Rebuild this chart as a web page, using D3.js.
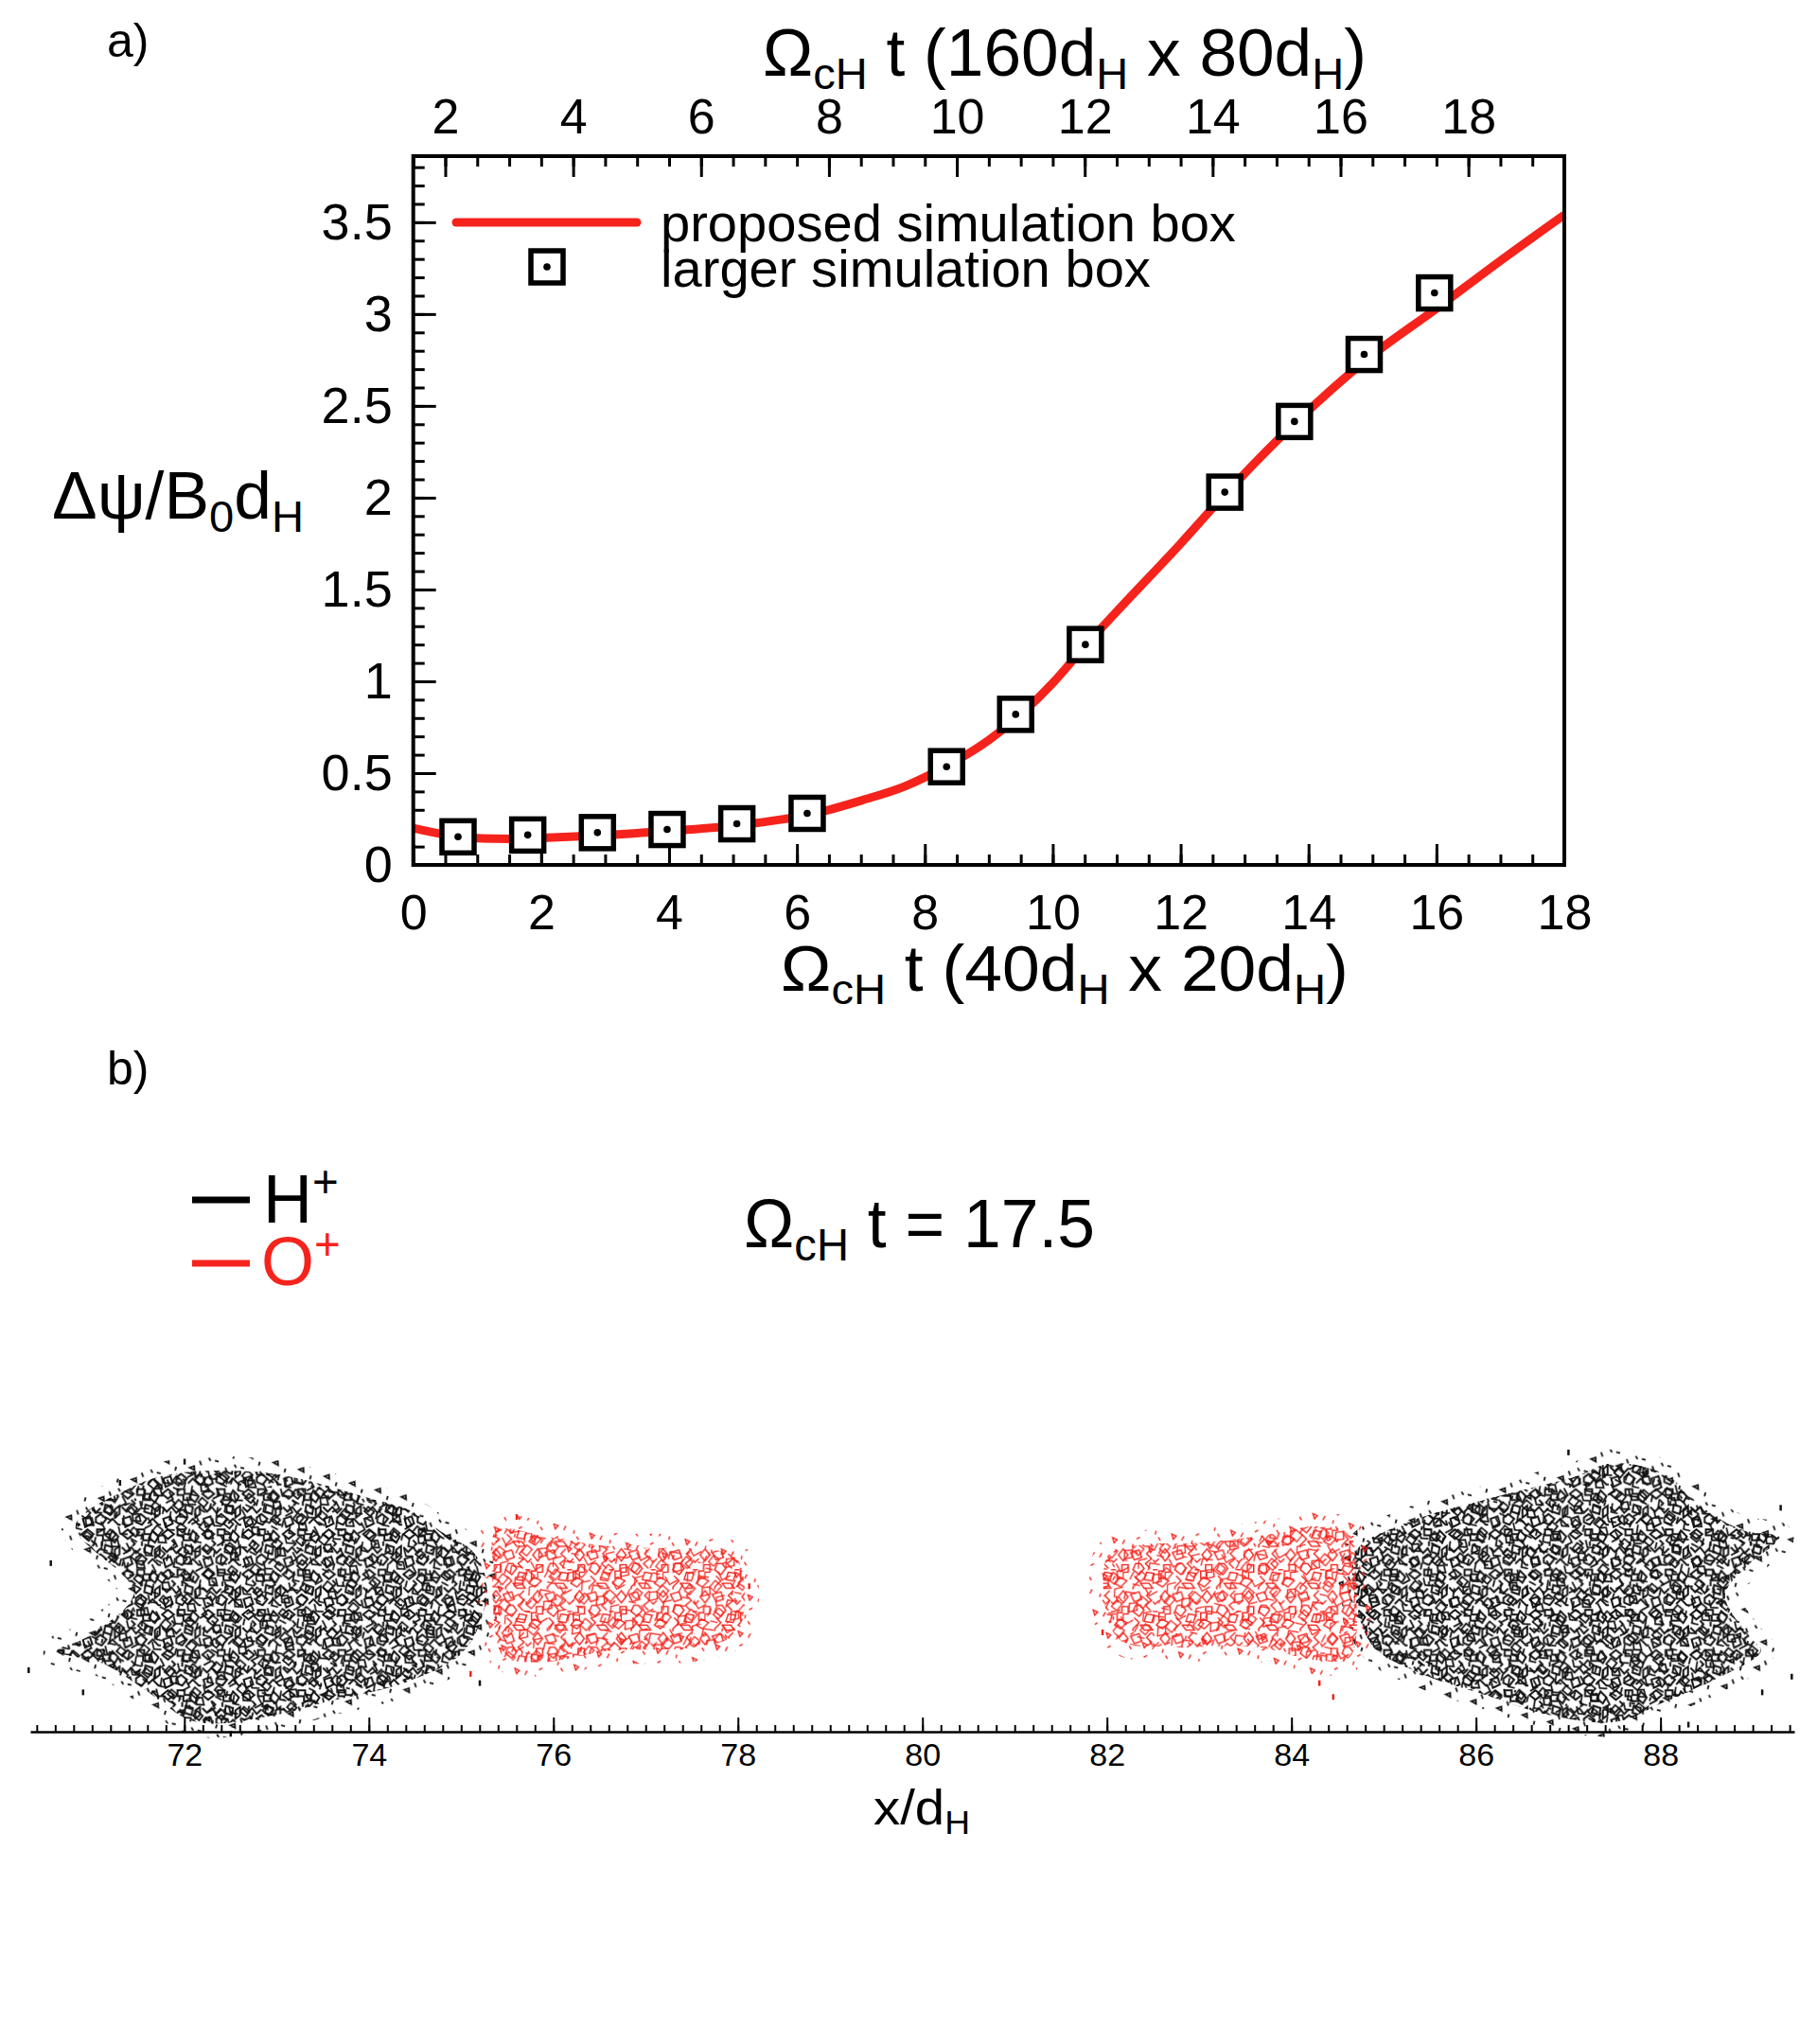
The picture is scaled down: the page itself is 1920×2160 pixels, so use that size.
<!DOCTYPE html>
<html>
<head>
<meta charset="utf-8">
<script src="https://cdn.jsdelivr.net/npm/d3@7"></script>
<style>
  body { margin: 0; background: #fff; }
  svg { display: block; }
</style>
</head>
<body>
<svg id="fig" width="1920" height="2160"></svg>
<script>
// ---- panel a data ----
const lineT = [0, 0.5, 1, 1.5, 2, 3, 4, 5, 6, 6.5, 7, 7.7, 8.4, 9, 9.5, 10, 10.5, 11, 12, 12.7, 13.8, 14.9, 16, 17, 18]
const lineV = [0.20, 0.165, 0.145, 0.142, 0.147, 0.162, 0.185, 0.213, 0.262, 0.30, 0.35, 0.43, 0.55, 0.68, 0.82, 0.99, 1.19, 1.38, 1.75, 2.02, 2.41, 2.75, 3.03, 3.29, 3.54]
const boxT = [0.70, 1.79, 2.88, 3.97, 5.06, 6.16, 8.34, 9.42, 10.51, 12.69, 13.78, 14.87, 15.97]
const boxV = [0.153, 0.163, 0.176, 0.193, 0.224, 0.281, 0.535, 0.82, 1.20, 2.03, 2.415, 2.78, 3.115]
const bottomTicks = [0, 2, 4, 6, 8, 10, 12, 14, 16, 18]
const topTicks = [2, 4, 6, 8, 10, 12, 14, 16, 18]
const yTicks = [0, 0.5, 1, 1.5, 2, 2.5, 3, 3.5]
const legendLabels = ['proposed simulation box', 'larger simulation box']

// ---- panel b data (outlines of the contour regions, x/dH and z/dH) ----
const hLeft = [[70.82, 0.75], [71.38, 1.15], [71.89, 1.32], [72.95, 1.32], [74.02, 1.05], [74.40, 0.94], [74.77, 0.70], [75.15, 0.45], [75.28, 0.03], [75.03, -0.60], [74.40, -0.94], [73.52, -1.16], [73.02, -1.29], [72.13, -1.37], [71.57, -1.02], [71.13, -0.74], [70.62, -0.60], [70.94, -0.45], [71.45, 0.03]]
const oLeft = [[75.38, 0.70], [75.97, 0.63], [76.60, 0.53], [77.85, 0.47], [78.02, 0.35], [78.00, -0.39], [77.54, -0.56], [76.60, -0.60], [75.91, -0.72], [75.47, -0.67], [75.38, -0.45], [75.34, 0.31]]
const oRight = [[82.02, 0.45], [82.37, 0.55], [82.99, 0.57], [83.88, 0.68], [84.26, 0.75], [84.63, 0.66], [84.70, 0.10], [84.63, -0.67], [84.26, -0.70], [83.62, -0.56], [82.69, -0.56], [82.15, -0.49], [81.99, -0.17]]
const hRight = [[84.70, 0.48], [85.20, 0.77], [86.14, 1.05], [87.08, 1.29], [87.46, 1.43], [88.03, 1.32], [88.53, 0.90], [88.91, 0.70], [89.29, 0.63], [88.97, 0.35], [88.70, 0.0], [88.97, -0.45], [89.09, -0.60], [88.53, -0.94], [88.03, -1.16], [87.52, -1.37], [86.77, -1.29], [86.14, -1.09], [85.39, -0.84], [84.89, -0.56], [84.70, -0.07]]
const specksH = [[70.31, -0.81], [70.55, 0.35], [70.9, -1.05], [71.3, 1.22], [72.0, 1.45], [72.5, -1.5], [75.2, -0.95], [89.3, 0.95], [89.42, -0.88], [89.1, -1.05], [88.3, -1.4], [87.0, 1.55]]
const specksO = [[75.1, -0.85], [75.6, 0.85], [78.12, 0.1], [81.95, -0.4], [84.3, -0.95], [84.45, -1.1]]
const xbTicks = [72, 74, 76, 78, 80, 82, 84, 86, 88]

const RED = '#f5231c'
const FONT = '"Liberation Sans", Arial, Helvetica, sans-serif'
const svg = d3.select('#fig')
svg.append('rect').attr('width', 1920).attr('height', 2160).attr('fill', '#fff')
const defs = svg.append('defs')

// text with sub/superscripts, optionally squeezed to a target width
const richText = function (parent, parts, x, yBase, fs, opts = {}) {
    const t = parent.append('text')
        .attr('x', 0).attr('y', yBase)
        .attr('font-family', FONT).attr('font-size', fs)
        .attr('fill', opts.color || '#000')
    let shift = 0
    parts.forEach(p => {
        const target = p.sub ? 0.2 * fs : p.sup ? -0.38 * fs : 0
        t.append('tspan')
            .attr('dy', target - shift)
            .attr('font-size', p.sub || p.sup ? fs * 0.66 : fs)
            .text(p.t)
        shift = target
    })
    const bb = t.node().getBBox()
    const s = opts.width ? opts.width / bb.width : 1
    t.attr('transform', `translate(${x},0) scale(${s},1) translate(${-bb.x},0)`)
    return t
}

// ================= panel a =================
const x = d3.scaleLinear().domain([0, 18]).range([436.7, 1653])
const xTop = d3.scaleLinear().domain([1.5, 19.5]).range([436.7, 1653])
const y = d3.scaleLinear().domain([0, 3.86]).range([914, 165])
const fmt = d => String(+d.toFixed(1))
const steps = (a, b, s) => d3.range(Math.round((b - a) / s) + 1).map(i => +(a + i * s).toFixed(2))

const styleAxis = function (g, fs) {
    g.select('.domain').remove()
    g.selectAll('line').attr('stroke', '#000').attr('stroke-width', 3)
    g.selectAll('text').attr('font-family', FONT).attr('font-size', fs).attr('fill', '#000')
}

const pa = svg.append('g')
pa.append('g').attr('transform', `translate(0,${y(0)})`)
    .call(d3.axisBottom(x).tickValues(steps(0, 18, 0.5)).tickSize(-11).tickFormat(''))
    .call(g => styleAxis(g, 52))
pa.append('g').attr('transform', `translate(0,${y(0)})`)
    .call(d3.axisBottom(x).tickValues(bottomTicks).tickSize(-22).tickPadding(31).tickFormat(fmt))
    .call(g => styleAxis(g, 52))
pa.append('g').attr('transform', `translate(0,${y.range()[1]})`)
    .call(d3.axisTop(xTop).tickValues(steps(1.5, 19.5, 0.5)).tickSize(-11).tickFormat(''))
    .call(g => styleAxis(g, 52))
pa.append('g').attr('transform', `translate(0,${y.range()[1]})`)
    .call(d3.axisTop(xTop).tickValues(topTicks).tickSize(-22).tickPadding(24).tickFormat(fmt))
    .call(g => styleAxis(g, 52))
pa.append('g').attr('transform', `translate(${x(0)},0)`)
    .call(d3.axisLeft(y).tickValues(steps(0, 3.8, 0.1)).tickSize(-12).tickFormat(''))
    .call(g => styleAxis(g, 54))
pa.append('g').attr('transform', `translate(${x(0)},0)`)
    .call(d3.axisLeft(y).tickValues(yTicks).tickSize(-24).tickPadding(22).tickFormat(fmt))
    .call(g => styleAxis(g, 54))

// curve
const curve = lineT.map((t, i) => [t, lineV[i]])
pa.append('path')
    .attr('d', d3.line().x(d => x(d[0])).y(d => y(d[1])).curve(d3.curveMonotoneX)(curve))
    .attr('fill', 'none').attr('stroke', RED).attr('stroke-width', 9).attr('stroke-linejoin', 'round')

const drawBox = function (g, cx, cy) {
    g.append('rect').attr('x', cx - 17).attr('y', cy - 17).attr('width', 34).attr('height', 34)
        .attr('fill', '#fff').attr('stroke', '#000').attr('stroke-width', 5.5)
    g.append('circle').attr('cx', cx).attr('cy', cy).attr('r', 3.8).attr('fill', '#000')
}
const boxes = pa.append('g')
boxT.forEach((t, i) => drawBox(boxes, x(t), y(boxV[i])))

// frame
pa.append('rect')
    .attr('x', x(0)).attr('y', y.range()[1])
    .attr('width', x(18) - x(0)).attr('height', y(0) - y.range()[1])
    .attr('fill', 'none').attr('stroke', '#000').attr('stroke-width', 4)

// legend
pa.append('line').attr('x1', 482).attr('x2', 673).attr('y1', 235).attr('y2', 235)
    .attr('stroke', RED).attr('stroke-width', 9).attr('stroke-linecap', 'round')
drawBox(pa, 578, 282)
richText(pa, [{ t: legendLabels[0] }], 698, 255, 56, { width: 608 })
richText(pa, [{ t: legendLabels[1] }], 698, 303, 56, { width: 518 })

// titles
richText(pa, [{ t: 'a)' }], 113, 60, 50)
richText(pa, [{ t: 'Ω' }, { t: 'cH', sub: true }, { t: ' t (160d' }, { t: 'H', sub: true }, { t: ' x 80d' }, { t: 'H', sub: true }, { t: ')' }], 806, 80, 70, { width: 638 })
richText(pa, [{ t: 'Ω' }, { t: 'cH', sub: true }, { t: ' t (40d' }, { t: 'H', sub: true }, { t: ' x 20d' }, { t: 'H', sub: true }, { t: ')' }], 825, 1047, 68, { width: 600 })
richText(pa, [{ t: 'Δψ/B' }, { t: '0', sub: true }, { t: 'd' }, { t: 'H', sub: true }], 55, 548, 70, { width: 266 })

// ================= panel b =================
const xb = d3.scaleLinear().domain([70.33, 89.45]).range([32, 1896])
const zb = d3.scaleLinear().domain([-1, 1]).range([1686 + 97.5, 1686 - 97.5])
const pb = svg.append('g')

// contour-like texture tiles (style only)
const tileA = ['M1,5 l5,-4 l5,4 l-5,4z', 'M14,1 h6 v4 h5 v5 h-6 v-4 h-5z', 'M27,2 l5,5 l-3,5 l-5,-4z',
    'M1,16 l4,4 l4,-4 l4,5 l4,-4', 'M21,14 l6,2 l-1,6 l-6,-2z', 'M29,18 l4,-3 v7 l-4,3z',
    'M2,26 l6,-2 l2,6 l-6,3z', 'M13,25 l4,-3 l5,4 l-4,5 l-5,-2z', 'M23,30 l4,-4 l5,5 h2',
    'M9,10 l3,3 l-2,2', 'M18,11 v4']
const tileB = ['M1,1 h5 v5 h-5z', 'M9,3 l4,3 l-4,3 l-3,-3z', 'M15,1 l5,2 l-2,5', 'M2,10 l3,5 l4,-2',
    'M12,12 h5 v4 h-5z', 'M19,11 l2,4', 'M4,18 l4,3 l4,-3', 'M15,19 l5,-1']
const tileS = ['M2,3 h3', 'M11,6 l2,3', 'M5,13 l3,-2 l1,3z', 'M15,15 v3', 'M17,2 l2,2']

const makePattern = function (id, size, paths, color, sw, rot, sc) {
    const p = defs.append('pattern').attr('id', id)
        .attr('patternUnits', 'userSpaceOnUse').attr('width', size).attr('height', size)
        .attr('patternTransform', `rotate(${rot}) scale(${sc})`)
    p.selectAll('path').data(paths).join('path').attr('d', d => d)
        .attr('fill', 'none').attr('stroke', color).attr('stroke-width', sw / sc)
}
makePattern('hA', 34, tileA, '#111', 2.0, 0, 1.25)
makePattern('hB', 22, tileB, '#111', 1.8, 40, 1.6)
makePattern('hS', 20, tileS, '#111', 1.8, 15, 1.4)
makePattern('oA', 34, tileA, RED, 1.4, 90, 1.3)
makePattern('oB', 22, tileB, RED, 1.3, 130, 1.8)
makePattern('oS', 20, tileS, RED, 1.4, 60, 1.4)

const blobLine = d3.line().x(d => xb(d[0])).y(d => zb(d[1])).curve(d3.curveCatmullRomClosed.alpha(0.5))
const drawBlob = function (pts, key) {
    const d = blobLine(pts)
    pb.append('path').attr('d', d).attr('fill', `url(#${key}A)`)
    pb.append('path').attr('d', d).attr('fill', `url(#${key}B)`)
    pb.append('path').attr('d', d).attr('fill', 'none').attr('stroke', `url(#${key}S)`).attr('stroke-width', 30)
}
drawBlob(hLeft, 'h')
drawBlob(hRight, 'h')
drawBlob(oLeft, 'o')
drawBlob(oRight, 'o')

pb.selectAll('.speckH').data(specksH).join('rect')
    .attr('x', d => xb(d[0]) - 1).attr('y', d => zb(d[1]) - 3).attr('width', 2.5).attr('height', 6).attr('fill', '#111')
pb.selectAll('.speckO').data(specksO).join('rect')
    .attr('x', d => xb(d[0]) - 1).attr('y', d => zb(d[1]) - 3).attr('width', 2.5).attr('height', 6).attr('fill', RED)

// x axis of panel b
const axY = 1830
pb.append('g').attr('transform', `translate(0,${axY})`)
    .call(d3.axisBottom(xb).tickValues(steps(70.4, 89.4, 0.2)).tickSize(-7).tickSizeOuter(0).tickFormat(''))
    .call(g => {
        g.select('.domain').attr('stroke', '#000').attr('stroke-width', 2.5)
        g.selectAll('line').attr('stroke', '#000').attr('stroke-width', 2)
    })
pb.append('g').attr('transform', `translate(0,${axY})`)
    .call(d3.axisBottom(xb).tickValues(xbTicks).tickSize(-15).tickPadding(12).tickFormat(d3.format('d')))
    .call(g => {
        g.select('.domain').remove()
        g.selectAll('line').attr('stroke', '#000').attr('stroke-width', 2)
        g.selectAll('text').attr('font-family', FONT).attr('font-size', 34).attr('fill', '#000')
    })
richText(pb, [{ t: 'x/d' }, { t: 'H', sub: true }], 923, 1928, 52, { width: 102 })

// labels of panel b
richText(pb, [{ t: 'b)' }], 113, 1146, 50)
pb.append('line').attr('x1', 203).attr('x2', 264).attr('y1', 1268).attr('y2', 1268).attr('stroke', '#000').attr('stroke-width', 7)
pb.append('line').attr('x1', 203).attr('x2', 264).attr('y1', 1335).attr('y2', 1335).attr('stroke', RED).attr('stroke-width', 7)
richText(pb, [{ t: 'H' }, { t: '+', sup: true }], 278, 1292, 72)
richText(pb, [{ t: 'O' }, { t: '+', sup: true }], 276, 1358, 72, { color: RED })
richText(pb, [{ t: 'Ω' }, { t: 'cH', sub: true }, { t: ' t = 17.5' }], 786, 1318, 72, { width: 371 })
</script>
</body>
</html>
